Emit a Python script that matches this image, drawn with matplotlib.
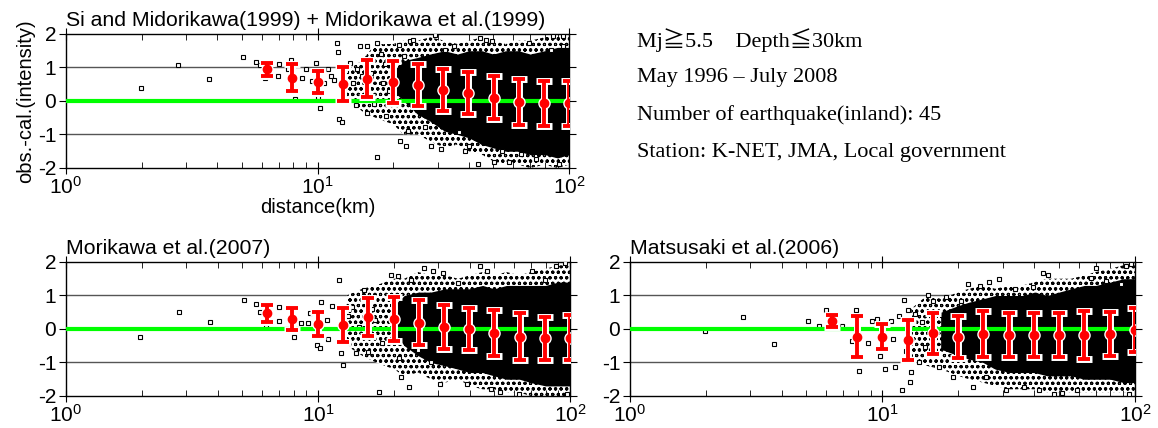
import matplotlib
matplotlib.use('Agg')
import matplotlib.pyplot as plt
from matplotlib.ticker import LogLocator, NullFormatter, FixedLocator

plt.rcParams['font.family'] = ['Liberation Sans', 'DejaVu Sans']
plt.rcParams['mathtext.fontset'] = 'custom'
plt.rcParams['mathtext.rm'] = 'Liberation Sans'
plt.rcParams['mathtext.it'] = 'Liberation Sans:italic'
plt.rcParams['axes.unicode_minus'] = False
plt.rcParams['hatch.linewidth'] = 0.8

# bin centres (km) for the mean +- std bars
bin_d = [6.3, 7.9, 10, 12.6, 15.8, 20, 25.1, 31.6, 39.8, 50.1, 63.1, 79.4, 100]

# distances where the outline of the point cloud was read
cloud_d = [13, 15, 17, 20, 22, 25, 28, 32, 36, 40, 45, 50, 56, 63, 70, 80, 90, 100]

# ---- Si and Midorikawa(1999) + Midorikawa et al.(1999)
p1_mean = [0.94, 0.69, 0.56, 0.50, 0.66, 0.56, 0.47, 0.33, 0.23, 0.10, -0.02, -0.07, -0.07]
p1_std = [0.20, 0.40, 0.33, 0.50, 0.55, 0.62, 0.63, 0.62, 0.63, 0.65, 0.69, 0.68, 0.68]
p1_pts_d = [1.99, 2.79, 3.70, 5.07, 5.67, 5.9, 6.2, 6.97, 7.06, 7.6, 7.85, 8.1, 8.7, 9.0, 9.5,
            9.9, 10.0, 10.2, 10.6, 11.0, 11.3, 12.0, 12.1, 12.2, 12.5, 12.8, 13.0, 13.5, 14.2,
            14.7, 15.0, 15.8, 15.7, 17.2, 17.2, 17.9, 18.2, 18.8, 19.2, 21.0, 21.3, 22.0, 22.4,
            22.9, 23.3, 24.0, 25.9, 26.8, 28.2, 29.2, 30.9, 32.0, 34.8, 36.5, 38.6, 40.2, 43.6,
            44.3, 46.9, 49.4, 50.3, 53.9, 57.8, 64.5, 69.0, 73.6, 85, 86, 94.5, 94.5, 91.5,
            11.6, 13.8, 14.4, 16.3, 16.8, 18.5]
p1_pts_v = [0.40, 1.07, 0.66, 1.31, 1.16, 1.07, 0.69, 0.76, 1.09, 0.94, 1.21, 0.07, 0.69, 0.94, 0.59,
            1.12, 0.12, -0.20, 0.54, 0.94, 0.74, 1.73, 1.46, -0.54, -0.64, 0.40, 0.89, 1.14, -0.13,
            1.65, 0.76, 1.63, -0.35, 1.73, -1.68, 1.39, 0.54, -0.45, 0.30, 1.68, -1.19, 1.34, -1.34,
            -0.89, 1.78, 1.83, 0.45, -0.79, -1.34, 1.98, -1.44, 1.53, 1.63, -0.94, -1.49, -1.34, -1.88,
            1.88, 1.81, 1.78, -1.83, -1.49, -1.83, -1.58, 1.73, -1.73, 1.53, 1.95, 1.95, 1.63, -1.88,
            0.62, 0.55, 0.95, 0.85, -0.10, 1.10]
p1_halo_hi = [0.9, 1.2, 1.7, 1.7, 1.8, 1.8, 1.9, 1.8, 1.7, 1.8, 1.9, 1.8, 1.7, 1.8, 1.8, 1.9, 2.0, 2.0]
p1_halo_lo = [0.1, -0.3, -0.5, -0.7, -1.0, -1.0, -1.2, -1.4, -1.3, -1.5, -1.6, -1.8, -1.9, -1.9, -2.0, -1.9, -2.0, -1.9]
p1_core_hi = [None, None, None, 0.9, 1.2, 1.3, 1.4, 1.5, 1.4, 1.5, 1.5, 1.4, 1.5, 1.5, 1.4, 1.5, 1.6, 1.6]
p1_core_lo = [None, None, None, 0.3, 0.0, -0.4, -0.6, -0.9, -1.0, -1.1, -1.3, -1.4, -1.5, -1.5, -1.6, -1.6, -1.7, -1.6]

# ---- Morikawa et al.(2007)
p2_mean = [0.47, 0.29, 0.15, 0.12, 0.35, 0.29, 0.19, 0.07, -0.01, -0.13, -0.23, -0.28, -0.26]
p2_std = [0.25, 0.33, 0.37, 0.50, 0.57, 0.66, 0.67, 0.66, 0.63, 0.69, 0.71, 0.65, 0.67]
p2_pts_d = [1.97, 2.81, 3.72, 5.07, 5.68, 5.9, 6.2, 7.0, 7.0, 8.0, 8.6, 9.1, 9.3, 9.9, 10.2,
            10.3, 10.9, 11.4, 12.1, 12.3, 12.6, 13.7, 14.2, 15.2, 15.8, 16.9, 17.4, 18.0, 19.4,
            20.7, 21.0, 21.4, 22.9, 23.3, 25.0, 26.4, 28.2, 28.6, 30.6, 31.2, 35.8, 39.0, 44.0,
            47.0, 48.6, 52.8, 62.9, 70.9, 79.8, 88.1, 95.2, 96.9,
            11.0, 13.2, 14.6, 16.4]
p2_pts_v = [-0.23, 0.52, 0.22, 0.87, 0.74, 0.50, 0.07, 0.67, 0.25, -0.25, 0.19, 0.19, 0.47, -0.48, -0.58,
            0.82, 0.27, 0.69, 1.47, -0.73, -1.08, 0.67, -0.73, 1.17, -0.68, 0.27, -1.88, -0.43, 1.62,
            1.57, -0.88, -1.43, -1.73, 1.47, -0.63, 1.82, -0.98, 1.72, -1.63, 1.67, 1.37, -1.63, 1.87,
            1.72, -1.78, -1.88, -1.93, 1.72, 1.47, 1.89, 1.97, -1.93,
            -0.30, 0.40, 0.05, 0.60]
p2_halo_hi = [1.0, 1.2, 1.3, 1.5, 1.5, 1.7, 1.6, 1.6, 1.5, 1.6, 1.7, 1.6, 1.7, 1.6, 1.7, 1.8, 1.9, 1.9]
p2_halo_lo = [-0.5, -0.8, -1.0, -1.2, -1.4, -1.3, -1.5, -1.6, -1.5, -1.7, -1.8, -1.8, -1.9, -1.9, -2.0, -2.0, -2.0, -2.0]
p2_core_hi = [None, None, None, 0.7, 1.0, 1.1, 1.1, 1.2, 1.2, 1.2, 1.3, 1.2, 1.3, 1.3, 1.3, 1.3, 1.4, 1.4]
p2_core_lo = [None, None, None, -0.1, -0.5, -0.8, -1.0, -1.1, -1.2, -1.3, -1.3, -1.4, -1.5, -1.5, -1.6, -1.7, -1.7, -1.7]

# ---- Matsusaki et al.(2006)
p3_mean = [0.23, -0.23, -0.23, -0.33, -0.13, -0.23, -0.15, -0.18, -0.18, -0.18, -0.17, -0.15, -0.03]
p3_std = [0.18, 0.62, 0.38, 0.60, 0.62, 0.63, 0.69, 0.67, 0.65, 0.67, 0.72, 0.66, 0.67]
p3_pts_d = [1.99, 2.81, 3.72, 5.07, 5.63, 5.95, 6.93, 7.6, 7.85, 8.1, 8.8, 9.1, 9.5, 9.8, 10.2,
            10.8, 11.2, 11.6, 12.0, 12.2, 12.6, 12.9, 13.0, 13.5, 13.9, 15.1, 15.9, 16.7, 17.8,
            19.1, 20.4, 21.8, 22.9, 24.4, 25.7, 26.5, 28.9, 30.9, 33.6, 36.4, 39.6, 41.5, 43.2,
            45.3, 47.6, 51.5, 58.7, 67.0, 70.3, 76.7, 87.9, 92.3, 96.8, 95.1,
            11.0, 12.4, 14.3, 14.8]
p3_pts_v = [-0.05, 0.37, -0.45, 0.23, 0.08, 0.56, 0.10, -0.35, 0.56, -1.24, -0.43, 0.23, 0.30, -0.82, -1.19,
            0.23, -1.14, 0.40, -1.83, 0.86, 0.56, -1.58, -1.29, 0.45, -0.99, 1.02, 0.84, -1.12, 0.94,
            -1.44, 0.84, 1.34, -1.73, 1.29, -1.44, 1.39, 1.49, -1.83, 1.19, -1.73, 1.24, -1.83, 1.68,
            1.61, -1.93, -1.91, -1.83, 1.53, 1.83, 1.44, 1.34, 1.88, 1.93, -1.93,
            -0.30, -0.65, 0.20, -0.55]
p3_halo_hi = [0.6, 1.0, 0.9, 1.1, 1.2, 1.3, 1.2, 1.3, 1.3, 1.4, 1.5, 1.5, 1.5, 1.6, 1.7, 1.8, 1.9, 1.9]
p3_halo_lo = [-0.9, -1.1, -1.2, -1.4, -1.5, -1.6, -1.7, -1.8, -1.8, -1.8, -1.9, -1.9, -1.9, -1.9, -1.9, -1.9, -1.9, -1.9]
p3_core_hi = [None, None, 0.5, 0.7, 0.8, 0.9, 1.0, 1.0, 1.0, 1.1, 1.0, 1.1, 1.2, 1.3, 1.3, 1.4, 1.5, 1.5]
p3_core_lo = [None, None, -0.6, -0.8, -0.9, -1.0, -1.2, -1.3, -1.3, -1.3, -1.4, -1.4, -1.4, -1.5, -1.5, -1.5, -1.6, -1.6]

info_lines = ['Mj\u22675.5    Depth\u226630km',
              'May 1996 \u2013 July 2008',
              'Number of earthquake(inland): 45',
              'Station: K-NET, JMA, Local government']


def draw_panel(ax, title, pts_d, pts_v, halo_hi, halo_lo, core_hi, core_lo, mean, std):
    # data cloud: sparse halo of points + dense core
    ax.fill_between(cloud_d, halo_lo, halo_hi, facecolor='white', edgecolor='black',
                    hatch='ooo', linewidth=0, zorder=1)
    cd = [d for d, h in zip(cloud_d, core_hi) if h is not None]
    ch = [h for h in core_hi if h is not None]
    cl = [l for l in core_lo if l is not None]
    ax.fill_between(cd, cl, ch, color='black', linewidth=0, zorder=2)
    ax.plot(pts_d, pts_v, 's', ms=3.5, mfc='white', mec='black', mew=0.8, zorder=3)

    for yy in [-1, 1]:
        ax.axhline(yy, color='#555555', lw=1, zorder=0.5)
    ax.axhline(0, color='#00ff00', lw=3, zorder=4)

    # white outline first, then the red bars on top
    ax.errorbar(bin_d, mean, yerr=std, fmt='o', color='white', ms=8, elinewidth=5,
                capsize=5.5, capthick=5, zorder=5)
    ax.errorbar(bin_d, mean, yerr=std, fmt='o', color='red', ms=6, elinewidth=2.8,
                capsize=4.5, capthick=2.8, zorder=6)

    ax.set_xscale('log')
    ax.set_xlim(1, 100)
    ax.set_ylim(-2, 2)
    ax.set_yticks([-2, -1, 0, 1, 2])
    ax.xaxis.set_major_locator(FixedLocator([1, 10, 100]))
    ax.xaxis.set_minor_locator(LogLocator(base=10, subs=range(2, 10)))
    ax.xaxis.set_minor_formatter(NullFormatter())
    ax.tick_params(axis='x', which='major', direction='inout', length=8, top=True, labelsize=15, pad=2)
    ax.tick_params(axis='x', which='minor', direction='in', length=4, top=True)
    ax.tick_params(axis='y', which='major', direction='out', length=5, right=True, labelsize=15, pad=2)
    for s in ax.spines.values():
        s.set_linewidth(1)
    ax.set_title(title, loc='left', fontsize=15.3, pad=6, x=0.0)


fig = plt.figure(figsize=(11.58, 4.28), dpi=100)
ax1 = fig.add_axes([0.0570, 0.6075, 0.4344, 0.3131])
ax2 = fig.add_axes([0.0570, 0.0748, 0.4352, 0.3131])
ax3 = fig.add_axes([0.5440, 0.0748, 0.4361, 0.3131])

draw_panel(ax1, 'Si and Midorikawa(1999) + Midorikawa et al.(1999)', p1_pts_d, p1_pts_v,
           p1_halo_hi, p1_halo_lo, p1_core_hi, p1_core_lo, p1_mean, p1_std)
draw_panel(ax2, 'Morikawa et al.(2007)', p2_pts_d, p2_pts_v,
           p2_halo_hi, p2_halo_lo, p2_core_hi, p2_core_lo, p2_mean, p2_std)
draw_panel(ax3, 'Matsusaki et al.(2006)', p3_pts_d, p3_pts_v,
           p3_halo_hi, p3_halo_lo, p3_core_hi, p3_core_lo, p3_mean, p3_std)

ax1.set_ylabel('obs.-cal.(intensity)', fontsize=14.5, labelpad=2)
ax1.set_xlabel('distance(km)', fontsize=14.5, labelpad=0)

# info text block
for i, line in enumerate(info_lines):
    fig.text(0.550, 0.9065 - i * 0.0875, line, fontsize=16, va='center', ha='left',
             family=['Liberation Serif', 'Noto Sans CJK JP', 'DejaVu Sans'])

fig.savefig('out.png', dpi=100)
